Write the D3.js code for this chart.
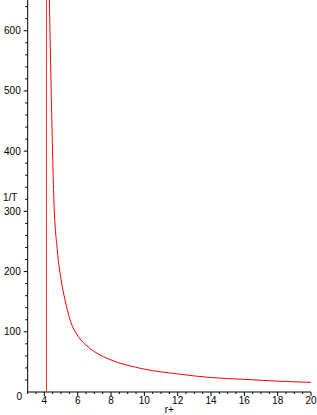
<!DOCTYPE html>
<html>
<head>
<meta charset="utf-8">
<script src="https://cdn.jsdelivr.net/npm/d3@7"></script>
<style>
  body { margin: 0; background: #fff; }
  text { font-family: "Liberation Sans", Arial, sans-serif; font-size: 10px; fill: #000; }
</style>
</head>
<body>
<svg width="317" height="415"></svg>
<script>
// values: r+ against 1/T
var rPlus = [4.30, 4.42, 4.57, 4.77, 5.00, 5.24, 5.54, 6.04, 6.64, 7.24, 7.84, 10, 12, 14, 16, 18, 20];
var invT  = [651, 487, 320, 237, 187, 153, 120, 92, 74.5, 63, 55, 38, 30, 24, 21, 18, 16];
var pole = 4.07;   // the vertical red line

var xTicks = [4, 6, 8, 10, 12, 14, 16, 18, 20];
var yTicks = [100, 200, 300, 400, 500, 600];

var svg = d3.select("svg"),
    width = +svg.attr("width"),
    height = +svg.attr("height");

var x = d3.scaleLinear().domain([3, 20]).range([27.7, 311]);
var y = d3.scaleLinear().domain([0, 651]).range([392, 0]);

svg.append("defs").append("clipPath").attr("id", "clip")
  .append("rect")
    .attr("x", x(3)).attr("y", 0)
    .attr("width", x(20) - x(3) + 1).attr("height", y(0));

// x axis, ticks below
var xAxis = svg.append("g").attr("transform", "translate(0," + y(0) + ")");
xAxis.append("line")
    .attr("x1", x(3)).attr("x2", x(20))
    .attr("stroke", "#000");
xAxis.selectAll("line.minor")
    .data(d3.range(3, 20.01, 0.5))
    .enter().append("line")
    .attr("class", "minor")
    .attr("x1", function(d) { return x(d); })
    .attr("x2", function(d) { return x(d); })
    .attr("y2", function(d) { return d % 2 === 0 ? 4 : 2; })
    .attr("stroke", "#000");
xAxis.selectAll("text")
    .data(xTicks)
    .enter().append("text")
    .attr("x", function(d) { return x(d); })
    .attr("y", 12)
    .attr("text-anchor", "middle")
    .text(function(d) { return d; });

// y axis, ticks to the left
var yAxis = svg.append("g").attr("transform", "translate(" + x(3) + ",0)");
yAxis.append("line")
    .attr("y1", y(0)).attr("y2", 0)
    .attr("stroke", "#000");
yAxis.selectAll("line.minor")
    .data(d3.range(20, 651, 20))
    .enter().append("line")
    .attr("class", "minor")
    .attr("y1", function(d) { return y(d); })
    .attr("y2", function(d) { return y(d); })
    .attr("x2", function(d) { return d % 100 === 0 ? -4 : -2.5; })
    .attr("stroke", "#000");
yAxis.selectAll("text")
    .data(yTicks)
    .enter().append("text")
    .attr("x", -7)
    .attr("y", function(d) { return y(d) + 3.5; })
    .attr("text-anchor", "end")
    .text(function(d) { return d; });

// origin label sits a bit lower, like the original
svg.append("text")
    .attr("x", 22).attr("y", 400)
    .attr("text-anchor", "end")
    .text("0");

// axis titles
svg.append("text")
    .attr("x", (x(3) + x(20)) / 2).attr("y", 413)
    .attr("text-anchor", "middle")
    .text("r+");
svg.append("text")
    .attr("x", 3).attr("y", 200.5)
    .text("1/T");

var plot = svg.append("g").attr("clip-path", "url(#clip)");

plot.append("line")
    .attr("x1", Math.round(x(pole)) + 0.5).attr("x2", Math.round(x(pole)) + 0.5)
    .attr("y1", y(0)).attr("y2", 0)
    .attr("stroke", "#ff3030")
    .attr("stroke-width", 1);

var line = d3.line()
    .x(function(d) { return x(d[0]); })
    .y(function(d) { return y(d[1]); })
    .curve(d3.curveMonotoneX);

plot.append("path")
    .datum(d3.zip(rPlus, invT))
    .attr("d", line)
    .attr("fill", "none")
    .attr("stroke", "red")
    .attr("stroke-width", 1);
</script>
</body>
</html>
